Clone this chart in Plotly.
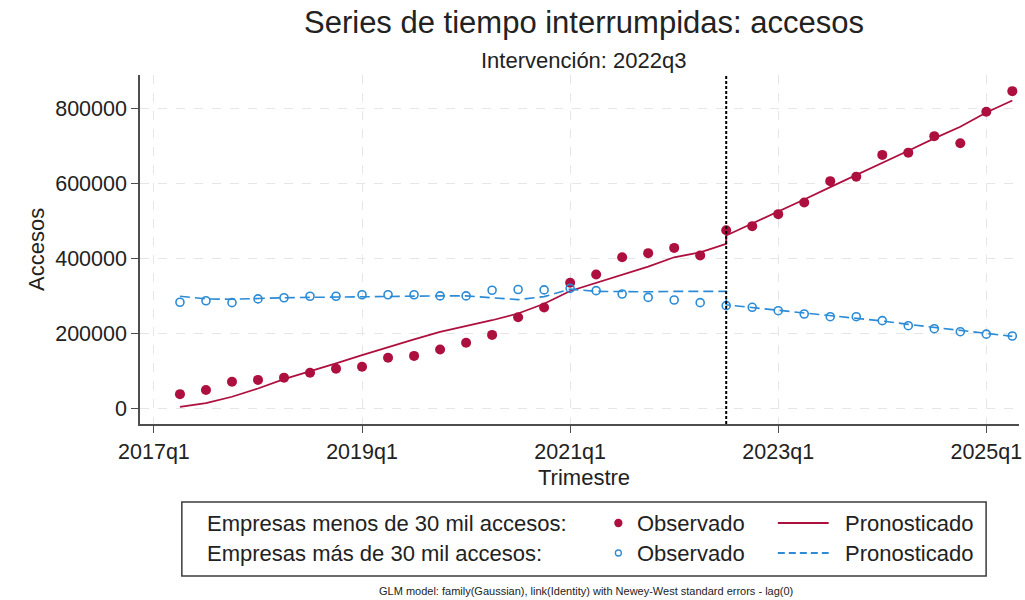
import plotly.graph_objects as go

# trimestres observados
quarters = [
    "2017q2", "2017q3", "2017q4", "2018q1", "2018q2", "2018q3", "2018q4",
    "2019q1", "2019q2", "2019q3", "2019q4", "2020q1", "2020q2", "2020q3",
    "2020q4", "2021q1", "2021q2", "2021q3", "2021q4", "2022q1", "2022q2",
    "2022q3", "2022q4", "2023q1", "2023q2", "2023q3", "2023q4", "2024q1",
    "2024q2", "2024q3", "2024q4", "2025q1", "2025q2",
]
intervention = "2022q3"

# empresas menos de 30 mil accesos
obs_menos = [
    37000, 48000, 70000, 75000, 81000, 94000, 105000, 110000, 134000, 139000,
    156000, 174000, 195000, 242000, 268000, 334000, 356000, 402000, 413000,
    427000, 407000, 474000, 485000, 517000, 548000, 605000, 617000, 675000,
    681000, 725000, 706000, 790000, 845000,
]
pred_menos_pre = [
    3000, 13000, 30000, 52000, 77000, 97000, 119000, 141000, 163000, 183000,
    203000, 218000, 234000, 252000, 278000, 312000, 333000, 356000, 377000,
    402000, 415000, 438000,
]
pred_menos_post = [
    460000, 492000, 523000, 556000, 589000, 621000, 652000, 686000, 719000,
    750000, 788000, 820000,
]

# empresas mas de 30 mil accesos
obs_mas = [
    282000, 286000, 281000, 291000, 294000, 298000, 298000, 302000, 302000,
    302000, 299000, 299000, 314000, 316000, 315000, 319000, 313000, 304000,
    295000, 288000, 281000, 273000, 268500, 259500, 250700, 243500, 243500,
    233000, 219500, 211500, 203500, 197000, 192000,
]
pred_mas_pre = [
    298000, 291000, 290000, 293000, 294000, 295000, 296000, 297000, 298000,
    298000, 299000, 299000, 293000, 289000, 297000, 317000, 311000, 310000,
    310000, 311000, 311000, 311000,
]
pred_mas_post = [
    275000, 268000, 261000, 254000, 247000, 240000, 232000, 223000, 215000,
    207000, 199000, 191000,
]

tick_labels = ["2017q1", "2019q1", "2021q1", "2023q1", "2025q1"]
y_ticks = [0, 200000, 400000, 600000, 800000]


def qidx(q):
    return (int(q[:4]) - 2017) * 4 + int(q[-1]) - 1


RED = "#ad0f3e"
BLUE = "#2b8bd6"
FONT = "Liberation Sans, Arial, sans-serif"
TXT = "#222"

# plot area in pixels
L, R, T, B = 140, 1022, 75, 424


def px(x):
    return (x - L) / (R - L)


def py(y):
    return (B - y) / (B - T)


x_obs = [qidx(q) for q in quarters]
i0 = quarters.index(intervention)
x_pred = x_obs[: i0 + 1] + x_obs[i0:]

fig = go.Figure()
fig.add_trace(go.Scatter(
    x=x_pred, y=pred_menos_pre + pred_menos_post, mode="lines",
    line=dict(color=RED, width=1.8), showlegend=False,
))
fig.add_trace(go.Scatter(
    x=x_pred, y=pred_mas_pre + pred_mas_post, mode="lines",
    line=dict(color=BLUE, width=1.6, dash="10px,5px"), showlegend=False,
))
fig.add_trace(go.Scatter(
    x=x_obs, y=obs_menos, mode="markers",
    marker=dict(color=RED, size=10), showlegend=False,
))
fig.add_trace(go.Scatter(
    x=x_obs, y=obs_mas, mode="markers",
    marker=dict(color=BLUE, size=8, symbol="circle-open", line=dict(width=1.6)),
    showlegend=False,
))

fig.add_vline(x=qidx(intervention), line=dict(color="black", width=2, dash="3px,2px"))

ppq = 26.1
x0 = (L - 154) / ppq
ypp = 300 / 800000
y1 = (408 - T) / ypp
y0 = -(B - 408) / ypp

axis_common = dict(
    showline=True, linecolor="#4d4d4d", linewidth=1.5,
    ticks="outside", ticklen=7, tickwidth=1.2, tickcolor="#4d4d4d",
    showgrid=True, gridcolor="#e6e6e6", griddash="dash", gridwidth=1,
    zeroline=False, tickfont=dict(size=21.5, color=TXT, family=FONT),
    ticklabeloverflow="allow",
)
fig.update_xaxes(
    range=[x0, x0 + (R - L) / ppq],
    tickvals=[qidx(t) for t in tick_labels], ticktext=tick_labels,
    **axis_common,
)
fig.update_yaxes(range=[y0, y1], tickvals=y_ticks, tickformat="d", **axis_common)

ann = [
    dict(text="Series de tiempo interrumpidas: accesos", x=px(586), y=py(22), size=31),
    dict(text="Intervención: 2022q3", x=px(586), y=py(60), size=22),
    dict(text="Trimestre", x=px(586), y=py(477), size=22),
    dict(text="GLM model: family(Gaussian), link(Identity) with Newey-West standard errors - lag(0)",
         x=px(588), y=py(591), size=11),
]
for a in ann:
    fig.add_annotation(
        text=a["text"], x=a["x"], y=a["y"], xref="paper", yref="paper",
        showarrow=False, xanchor="center", yanchor="middle",
        font=dict(size=a["size"], color=TXT, family=FONT),
    )
fig.add_annotation(
    text="Accesos", x=px(21), y=py(249), xref="paper", yref="paper",
    showarrow=False, textangle=-90, font=dict(size=22, color=TXT, family=FONT),
)

# leyenda manual
fig.add_shape(type="rect", xref="paper", yref="paper",
              x0=px(182), x1=px(989), y0=py(502), y1=py(576),
              line=dict(color="#3c3c3c", width=1.5), fillcolor="white", layer="below")
rows = [
    ("Empresas menos de 30 mil accesos:", 523, RED, "solid", True),
    ("Empresas más de 30 mil accesos:", 553, BLUE, "7px,4px", False),
]
for label, ry, col, dash, filled in rows:
    for txt, lx in [(label, 205), ("Observado", 637), ("Pronosticado", 845)]:
        fig.add_annotation(
            text=txt, x=px(lx), y=py(ry), xref="paper", yref="paper",
            showarrow=False, xanchor="left", yanchor="middle",
            font=dict(size=22, color=TXT, family=FONT),
        )
    r = 3.5 if filled else 3
    fig.add_shape(type="circle", xref="paper", yref="paper",
                  x0=px(620 - r), x1=px(620 + r), y0=py(ry - r), y1=py(ry + r),
                  fillcolor=col if filled else "white", line=dict(color=col, width=1.3))
    fig.add_shape(type="line", xref="paper", yref="paper",
                  x0=px(780), x1=px(831), y0=py(ry), y1=py(ry),
                  line=dict(color=col, width=1.8, dash=dash))

fig.update_layout(
    width=1025, height=600,
    margin=dict(l=L, r=1025 - R, t=T, b=600 - B),
    plot_bgcolor="white", paper_bgcolor="white",
    font=dict(family=FONT, color=TXT),
)

# the page's default body margin would shift the figure by 8px
fig.write_html(
    "out.html",
    config={"displayModeBar": False},
    post_script="document.body.style.margin='0px';",
)
